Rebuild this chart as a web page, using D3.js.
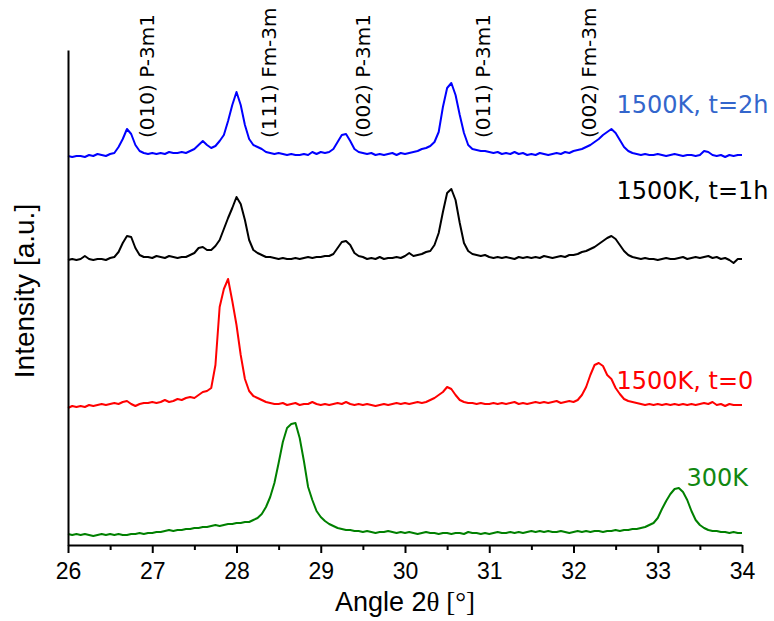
<!DOCTYPE html>
<html><head><meta charset="utf-8">
<script src="https://cdn.jsdelivr.net/npm/d3@7"></script>
<style>body{margin:0;background:#fff}svg{display:block}</style>
</head><body>
<svg id="chart" width="774" height="621"></svg>
<script>
// measurement grid: 26.00 .. 34.00 deg, step 0.05
const angleStart = 26, angleStep = 0.05, nPoints = 161;
const angles = d3.range(nPoints).map(i => +(angleStart + i * angleStep).toFixed(2));

// intensities (a.u., curves already offset)
const int2h = [389,388,389,389,388,390,389,391,390,389,391,392,398,406,416,411,400,394,392,391,
392,391,392,391,393,392,392,393,392,394,396,400,404,400,397,399,404,410,424,440,
453,440,420,406,400,398,396,393,392,391,392,391,390,391,390,390,391,390,393,391,
393,392,393,396,403,410,411,404,396,393,392,391,392,390,391,390,391,392,390,392,
391,392,393,394,396,397,399,403,413,438,457,462,450,430,412,400,396,395,394,394,
393,392,393,391,392,391,393,391,392,390,391,390,392,391,390,391,392,391,393,392,
394,395,396,398,400,403,406,410,413,416,412,405,398,394,392,391,390,391,390,390,
391,390,389,390,391,390,389,390,390,389,390,394,393,390,389,390,388,390,389,390,390];
const int1h = [285,286,285,286,289,286,285,286,286,285,287,288,293,302,309,308,297,290,288,288,
287,289,288,287,289,288,287,288,288,290,292,297,298,295,295,299,305,316,327,337,
348,341,325,305,295,292,290,288,288,287,286,287,286,286,287,286,287,288,287,288,
288,289,289,291,297,303,304,300,292,289,288,286,287,286,288,286,287,287,288,287,
289,292,289,290,291,293,294,300,312,333,352,356,345,322,302,294,291,290,289,290,
288,287,288,287,288,287,286,288,287,288,287,288,287,289,288,287,288,289,288,290,
290,291,293,294,296,298,301,304,307,309,306,300,294,290,288,287,286,287,286,286,
285,286,287,286,286,287,288,286,287,288,287,288,289,287,288,286,287,285,282,286,286];
const int0 = [137,139,138,139,138,140,139,140,141,140,141,142,141,143,144,141,139,141,142,142,
143,142,143,145,143,144,146,145,147,148,147,150,153,154,157,180,238,256,266,244,
220,190,166,154,149,147,145,143,142,141,141,142,140,141,142,140,141,141,143,141,
140,141,140,141,142,141,143,141,140,141,140,141,140,139,140,141,140,141,142,141,
142,141,142,143,142,143,145,147,150,153,158,156,150,145,143,142,142,141,142,141,
141,142,141,142,141,142,143,141,142,141,142,143,142,143,142,143,144,142,143,144,
143,145,150,158,170,180,182,179,170,166,157,151,146,144,143,142,141,140,141,140,
141,140,141,140,141,140,141,140,141,140,141,142,141,143,140,141,139,141,140,140,140];
const int300 = [11,10,11,10,11,10,9,10,11,10,11,10,11,10,10,11,11,12,11,12,
12,13,13,14,15,14,15,15,16,16,17,17,18,18,19,20,19,20,21,21,
22,22,23,23,25,27,31,38,48,62,82,103,117,121,122,107,84,58,45,34,
28,24,21,19,17,16,15,15,14,14,13,14,13,12,13,13,14,13,12,13,
12,13,12,11,12,13,12,12,11,12,12,11,12,12,11,13,12,12,11,12,
11,12,13,12,12,13,12,13,12,13,14,13,14,13,14,13,13,14,13,12,
13,14,13,14,13,14,14,13,14,14,15,14,15,15,16,16,17,18,20,22,
27,36,44,51,56,57,53,45,34,25,20,17,15,14,14,13,13,12,13,12,12];

const series = [int2h, int1h, int0, int300];
const seriesNames = ["1500K, t=2h", "1500K, t=1h", "1500K, t=0", "300K"];
const lineColors = ["#0000ff", "#000000", "#ff0000", "#008000"];
const labelColors = ["#3366cc", "#000000", "#ff0000", "#118811"];
const labelAngle = [32.51, 32.51, 32.51, 33.34];
const labelLevel = [432, 346, 156, 59];

const peakLabels = ["(010) P-3m1", "(111) Fm-3m", "(002) P-3m1", "(011) P-3m1", "(002) Fm-3m"];
const peakLabelAngle = [26.94, 28.38, 29.50, 30.92, 32.18];
const peakLabelLevel = 407;

const xTicks = [26, 27, 28, 29, 30, 31, 32, 33, 34];
const xMinor = [26.5, 27.5, 28.5, 29.5, 30.5, 31.5, 32.5, 33.5];

const svg = d3.select("#chart");
const x = d3.scaleLinear().domain([26, 34]).range([68, 742]);
const y = d3.scaleLinear().domain([0, 495]).range([545, 50]);

// lines
const line = d3.line().x((d, i) => x(angles[i])).y(d => y(d));
svg.append("g").selectAll("path").data(series).join("path")
  .attr("d", line).attr("fill", "none")
  .attr("stroke", (d, i) => lineColors[i])
  .attr("stroke-width", 2).attr("stroke-linejoin", "round");

// axes
const xAxis = svg.append("g").attr("transform", `translate(0,${y(0)})`)
  .call(d3.axisBottom(x).tickValues(xTicks).tickSize(8).tickPadding(10)
        .tickSizeOuter(0).tickFormat(d3.format("d")));
xAxis.select(".domain").attr("stroke-width", 2);
xAxis.selectAll(".tick line").attr("stroke-width", 2);
xAxis.selectAll(".tick text").attr("font-family", "'Liberation Sans', Arial, sans-serif")
  .attr("font-size", 23).attr("fill", "#000");
const xMin = svg.append("g").attr("transform", `translate(0,${y(0)})`)
  .call(d3.axisBottom(x).tickValues(xMinor).tickSize(5).tickFormat(""));
xMin.select(".domain").remove();
xMin.selectAll(".tick line").attr("stroke-width", 2);

const yAxis = svg.append("g").attr("transform", `translate(${x(26)},0)`)
  .call(d3.axisLeft(y).tickValues([]).tickSizeOuter(0));
yAxis.select(".domain").attr("stroke-width", 2);

// axis titles
const xt = svg.append("text").attr("x", 405).attr("y", 611).attr("text-anchor", "middle")
  .attr("font-size", 27).attr("fill", "#000");
xt.append("tspan").attr("font-family", "'Liberation Sans', Arial, sans-serif").text("Angle 2");
xt.append("tspan").attr("font-family", "'Liberation Serif', 'Times New Roman', serif").text("\u03B8 [\u00B0]");

svg.append("text").attr("transform", "translate(34,291) rotate(-90)")
  .attr("text-anchor", "middle").attr("font-family", "'Liberation Sans', Arial, sans-serif")
  .attr("font-size", 28).attr("fill", "#000").text("Intensity [a.u.]");

// peak annotations
svg.append("g").selectAll("text").data(peakLabels).join("text")
  .attr("transform", (d, i) => `translate(${x(peakLabelAngle[i])},${y(peakLabelLevel)}) rotate(-90)`)
  .attr("dy", "0.36em")
  .attr("font-family", "'DejaVu Sans', Verdana, sans-serif")
  .attr("font-size", 20).attr("fill", "#000").text(d => d);

// series labels
svg.append("g").selectAll("text").data(seriesNames).join("text")
  .attr("x", (d, i) => x(labelAngle[i])).attr("y", (d, i) => y(labelLevel[i]))
  .attr("font-family", "'DejaVu Sans', Verdana, sans-serif")
  .attr("font-size", 24).attr("fill", (d, i) => labelColors[i]).text(d => d);
</script>
</body></html>
